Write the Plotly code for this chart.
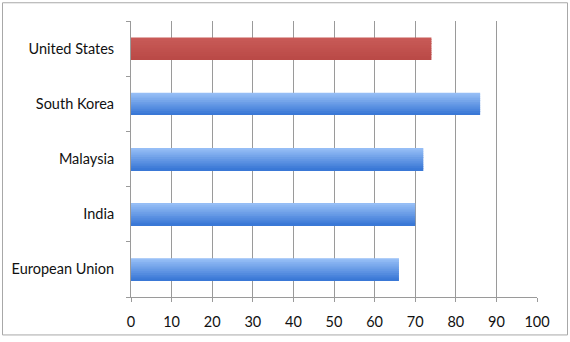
import plotly.graph_objects as go

categories = ["European Union", "India", "Malaysia", "South Korea", "United States"]
values = [66, 70, 72, 86, 74]
highlight = [False, False, False, False, True]
x_ticks = [0, 10, 20, 30, 40, 50, 60, 70, 80, 90, 100]

W, H = 570, 342
L, R, T, B = 131, 33, 21, 41

blue_top = (150, 190, 246)
blue_bot = (58, 120, 214)
red_top = (200, 90, 87)
red_bot = (186, 74, 71)

def mix(a, b, t):
    return "rgb(%d,%d,%d)" % tuple(round(a[i] + (b[i] - a[i]) * t) for i in range(3))

bar_w = 0.4
n = 12
fig = go.Figure()
for i in range(n):
    t = i / (n - 1)
    cols = [mix(red_top, red_bot, t) if h else mix(blue_top, blue_bot, t) for h in highlight]
    band = bar_w / n
    off = bar_w / 2 - (i + 1) * band
    fig.add_trace(go.Bar(
        x=values, y=categories, orientation="h",
        width=band * 1.02, offset=off,
        marker=dict(color=cols, line=dict(width=0)),
        showlegend=False, hoverinfo="x+y",
    ))

fig.update_layout(
    width=W, height=H,
    margin=dict(l=L, r=R, t=T, b=B),
    barmode="overlay",
    plot_bgcolor="white", paper_bgcolor="white",
    font=dict(family="Lato, Open Sans, sans-serif", size=14.5, color="#111"),
    xaxis=dict(
        range=[0, 100], tickvals=x_ticks, showgrid=True, gridcolor="#9a9a9a", gridwidth=1,
        showline=True, linecolor="#9a9a9a", linewidth=1, ticks="outside", ticklen=4,
        tickcolor="#9a9a9a", zeroline=False, ticklabelstandoff=8, fixedrange=True,
    ),
    yaxis=dict(
        categoryorder="array", categoryarray=categories, showline=True, linecolor="#9a9a9a",
        linewidth=1, ticks="outside", ticklen=4, tickcolor="#9a9a9a", tickson="boundaries",
        showgrid=False, ticklabelstandoff=13, fixedrange=True,
    ),
    shapes=[dict(
        type="rect", xref="paper", yref="paper",
        x0=(2.5 - L) / (W - L - R), x1=(567.5 - L) / (W - L - R),
        y0=(H - B - 339.5) / (H - T - B), y1=(H - B - 2.5) / (H - T - B),
        line=dict(color="#a8a8a8", width=1), fillcolor="rgba(0,0,0,0)", layer="above",
    )],
)

fig.write_html("out.html")
